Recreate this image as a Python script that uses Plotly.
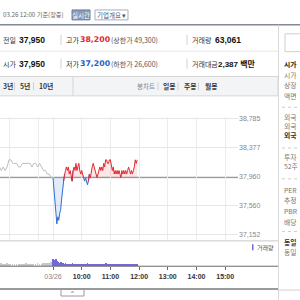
import plotly.graph_objects as go

W = H = 300

def px(x):
    return x / W

def py(y):
    return 1 - y / H

# ---------------- data ----------------
prev_close = 37950
today_minutes = list(range(0, 177, 2))  # minutes after 09:00, 03/26
today_price = [37950, 37750, 37550, 37350, 37300, 37400, 37350, 37450, 37500, 37650,
               37750, 37900, 38000, 38050, 38100, 38050, 38100, 38000, 38050, 37950,
               37900, 38050, 38100, 38050, 38150, 38050, 38100, 38150, 38050, 38000,
               38050, 38000, 37950, 37900, 37950, 37900, 37850, 37900, 38000, 37950,
               38050, 38100, 38150, 38100, 38050, 38000, 37950, 38000, 38050, 38100,
               38050, 38100, 38050, 38150, 38100, 38200, 38200, 38150, 38150, 38200,
               38200, 38100, 38050, 38100, 38000, 38050, 38000, 38050, 38000, 38050,
               38000, 37950, 38050, 38000, 38050, 38000, 38050, 38000, 38050, 38100,
               38050, 38000, 38050, 38000, 38050, 38100, 38200, 38150, 38200]
today_volume = [2200, 1900, 1700, 2000, 1500, 1200, 1000, 900, 1100, 800,
                900, 700, 600, 800, 500, 600, 700, 500, 400, 600,
                800, 500, 600, 400, 700, 500, 400, 600, 500, 400,
                500, 600, 400, 700, 500, 600, 800, 400, 500, 400,
                600, 500, 700, 400, 500, 300, 600, 400, 500, 400,
                500, 400, 600, 500, 700, 800, 600, 500, 400, 600,
                500, 400, 300, 500, 400, 300, 400, 500, 300, 400,
                300, 500, 400, 300, 400, 300, 400, 500, 300, 400,
                300, 400, 500, 300, 400, 500, 700, 500, 600]
prev_minutes = list(range(-112, 1, 4))  # minutes before previous day's close
prev_price = [38100, 38050, 38100, 38050, 38100, 38200, 38200, 38150, 38150, 38150,
              38100, 38100, 38150, 38150, 38150, 38150, 38150, 38100, 38150, 38150,
              38100, 38150, 38100, 38050, 38050, 38000, 38000, 37950, 37950]
prev_volume = [600, 800, 500, 700, 900, 600, 500, 700, 400, 600,
               500, 700, 600, 500, 800, 600, 500, 700, 600, 500,
               800, 600, 700, 900, 800, 1000, 900, 1200, 1500]
price_ticks = [37152, 37560, 37960, 38377, 38785]
hour_grid = [-1.5, -0.5, 0, 1, 2, 3, 4, 5, 6]
time_tick_vals = [0, 1, 2, 3, 4, 5, 6]
time_tick_text = ["03/26", "10:00", "11:00", "12:00", "13:00", "14:00", "15:00"]

# ---------------- derived ----------------
th = [m / 60 for m in today_minutes]
ph = [m / 60 for m in prev_minutes]
n = len(today_price)
base = [prev_close] * n
upper = [max(v, prev_close) for v in today_price]
lower = [min(v, prev_close) for v in today_price]

def seg(cond):
    out = []
    for i, v in enumerate(today_price):
        nb = [today_price[j] for j in (i - 1, i, i + 1) if 0 <= j < n]
        out.append(v if any(cond(u) for u in nb) else None)
    return out

red_y = seg(lambda u: u > prev_close)
blue_y = seg(lambda u: u < prev_close)

RED = "#e4282f"
BLUE = "#2f6fd3"
PURPLE = "#7468d6"

fig = go.Figure()
fig.add_trace(go.Scatter(x=th, y=base, mode="lines", line=dict(width=0), hoverinfo="skip", showlegend=False))
fig.add_trace(go.Scatter(x=th, y=upper, mode="lines", line=dict(width=0), fill="tonexty",
                         fillcolor="rgba(235,60,70,0.13)", hoverinfo="skip", showlegend=False))
fig.add_trace(go.Scatter(x=th, y=base, mode="lines", line=dict(width=0), hoverinfo="skip", showlegend=False))
fig.add_trace(go.Scatter(x=th, y=lower, mode="lines", line=dict(width=0), fill="tonexty",
                         fillcolor="rgba(60,125,215,0.15)", hoverinfo="skip", showlegend=False))
fig.add_trace(go.Scatter(x=ph, y=prev_price, mode="lines", line=dict(color="#bdbdbd", width=1), showlegend=False))
fig.add_trace(go.Scatter(x=th, y=blue_y, mode="lines", line=dict(color=BLUE, width=1), connectgaps=False, showlegend=False))
fig.add_trace(go.Scatter(x=th, y=red_y, mode="lines", line=dict(color=RED, width=1), connectgaps=False, showlegend=False))

fig.add_trace(go.Bar(x=ph, y=prev_volume, marker=dict(color="#c8c8c8", line=dict(width=0)), width=0.02,
                     xaxis="x2", yaxis="y2", showlegend=False))
fig.add_trace(go.Bar(x=th, y=today_volume, marker=dict(color=PURPLE, line=dict(width=0)), width=0.02,
                     xaxis="x2", yaxis="y2", showlegend=False))

xr = [-1.847, 6.446]
FONT = "Liberation Sans, Arial, Noto Sans CJK KR, sans-serif"

fig.update_layout(
    width=W, height=H, margin=dict(l=0, r=0, t=0, b=0),
    paper_bgcolor="white", plot_bgcolor="white",
    font=dict(family=FONT, size=7, color="#333"),
    bargap=0,
    xaxis=dict(domain=[0, px(238)], range=xr, tickvals=hour_grid, showticklabels=False,
               showgrid=True, gridcolor="#ececec", gridwidth=1, zeroline=False, showline=False,
               anchor="y", fixedrange=True),
    yaxis=dict(domain=[py(240), py(115.9)], range=[37068, 38800], side="right",
               tickvals=price_ticks, tickformat=",d", showgrid=True, gridcolor="#e6e6e6",
               zeroline=False, showline=False, ticks="", tickfont=dict(size=7, color="#888"),
               anchor="x", fixedrange=True),
    xaxis2=dict(domain=[0, px(238)], range=xr, tickvals=time_tick_vals,
                ticktext=["<span style='color:#888'>" + time_tick_text[0] + "</span>"] +
                         ["<b>" + t + "</b>" for t in time_tick_text[1:]],
                ticks="outside", ticklen=3, tickcolor="#666", showgrid=False, zeroline=False,
                showline=False, tickfont=dict(size=7, color="#333"), anchor="y2", fixedrange=True),
    yaxis2=dict(domain=[py(266), py(243)], range=[0, 7000], visible=False, anchor="x2", fixedrange=True),
)

shapes = []
def hline(y, x0, x1, color, width=1, dash="solid"):
    shapes.append(dict(type="line", xref="paper", yref="paper", x0=px(x0), x1=px(x1), y0=py(y), y1=py(y),
                       line=dict(color=color, width=width, dash=dash)))

def vline(x, y0, y1, color, width=1):
    shapes.append(dict(type="line", xref="paper", yref="paper", x0=px(x), x1=px(x), y0=py(y0), y1=py(y1),
                       line=dict(color=color, width=width)))

def rect(x0, y0, x1, y1, fill, line, lw=1, layer="below"):
    shapes.append(dict(type="rect", xref="paper", yref="paper", x0=px(x0), x1=px(x1), y0=py(y1), y1=py(y0),
                       fillcolor=fill, line=dict(color=line, width=lw), layer=layer))

# baseline at previous close
shapes.append(dict(type="line", xref="paper", yref="y", x0=0, x1=px(238), y0=prev_close, y1=prev_close,
                   line=dict(color="#8c8c8c", width=1), layer="below"))

# header
hline(23, 0, 300, "#454b5a", 1)
hline(49.5, 0, 278, "#e6e6e6", 1)
for sx in (61, 187):
    vline(sx, 33, 43, "#d0d0d0")
    vline(sx, 57, 67, "#d0d0d0")
rect(72, 8, 90, 18, "#8a99b6", "#6d7d9b")
rect(95, 8, 128, 18, "white", "#a3aec6")
# tab bar
rect(-2, 75, 278, 94.5, "#f3f4f6", "#d6d6d6")
vline(73, 75, 94.5, "#d6d6d6")
for sx in (14.5, 33.5, 158, 178, 198.5):
    vline(sx, 81, 89, "#d0d0d0")
# right panel
vline(278.5, 23, 300, "#d9d9d9")
rect(285, 32, 305, 50, "white", "#cfcfcf")
for dy in (106, 147, 178, 231):
    hline(dy, 282, 300, "#cccccc", 1, "dot")
# chart frame
hline(240.5, 0, 278, "#c8c8c8", 1)
hline(266, 0, 278, "#6b6b6b", 1)
hline(289, 0, 278, "#9a9a9a", 2)
hline(290, 278, 300, "#d0d0d0", 1)
rect(61, 289, 84, 296, "white", "#9a9a9a")
# volume legend marker
rect(252, 244, 253.5, 250, PURPLE, PURPLE, 0, "above")

annos = []
def txt(x, y, s, size=7, color="#333", anchor="left", family=None):
    f = dict(size=size, color=color)
    if family:
        f["family"] = family
    annos.append(dict(x=px(x), y=py(y), xref="paper", yref="paper", text=s, showarrow=False,
                      xanchor=anchor, yanchor="middle", font=f))

KR = "Noto Sans CJK KR, sans-serif"
txt(0.5, 13, "03.26 12:00 기준(장중)", 6.2, "#666", "left", KR)
txt(81, 13, "실시간", 6.5, "white", "center", KR)
txt(111.5, 13, "기업개요 ▾", 6.5, "#4a5570", "center", KR)

txt(0.5, 38, "전일", 7, "#333", "left", KR)
txt(17, 38, "<b>37,950</b>", 8.5, "#111")
txt(63.5, 38, "고가", 7, "#333", "left", KR)
txt(78, 38, "<b>38,200</b>", 7.8, RED, "left", "DejaVu Sans, sans-serif")
txt(109, 38, "(상한가 49,300)", 7, "#555", "left", KR)
txt(190, 38, "거래량", 7, "#333", "left", KR)
txt(213, 38, "<b>63,061</b>", 8.5, "#111")

txt(0.5, 62, "시가", 7, "#333", "left", KR)
txt(17, 62, "<b>37,950</b>", 8.5, "#111")
txt(63.5, 62, "저가", 7, "#333", "left", KR)
txt(78, 62, "<b>37,200</b>", 7.8, "#1f5fc8", "left", "DejaVu Sans, sans-serif")
txt(109, 62, "(하한가 26,600)", 7, "#555", "left", KR)
txt(190, 62, "거래대금", 7, "#333", "left", KR)
txt(216, 62, "<b>2,387 백만</b>", 8, "#111")

txt(0.5, 85, "<b>3년</b>", 6.8, "#333", "left", KR)
txt(18, 85, "<b>5년</b>", 6.8, "#333", "left", KR)
txt(37, 85, "<b>10년</b>", 6.8, "#333", "left", KR)
txt(135, 85, "봉차트", 6.5, "#888", "left", KR)
txt(161, 85, "<b>일봉</b>", 6.8, "#333", "left", KR)
txt(182, 85, "<b>주봉</b>", 6.8, "#333", "left", KR)
txt(203, 85, "<b>월봉</b>", 6.8, "#333", "left", KR)

right_rows = [(62, "<b>시가</b>", "#222"), (73, "시가", "#777"), (84, "상장", "#777"),
              (95, "액면", "#777"), (116, "외국", "#777"), (125, "외국", "#777"),
              (134, "<b>외국</b>", "#333"), (156, "투자", "#777"), (165, "52주", "#777"),
              (189, "PER", "#777"), (199, "추정", "#777"), (210, "PBR", "#777"),
              (221, "배당", "#777"), (242, "<b>동일</b>", "#333"), (252, "동일", "#777")]
for ry, s, c in right_rows:
    txt(282, ry, s, 6.8, c, "left", KR)

txt(255, 247, "거래량", 6, "#555", "left", KR)
txt(72.5, 293, "^", 6, "#555", "center")

fig.update_layout(shapes=shapes, annotations=annos)
fig.write_html("out.html", config={"displayModeBar": False})
